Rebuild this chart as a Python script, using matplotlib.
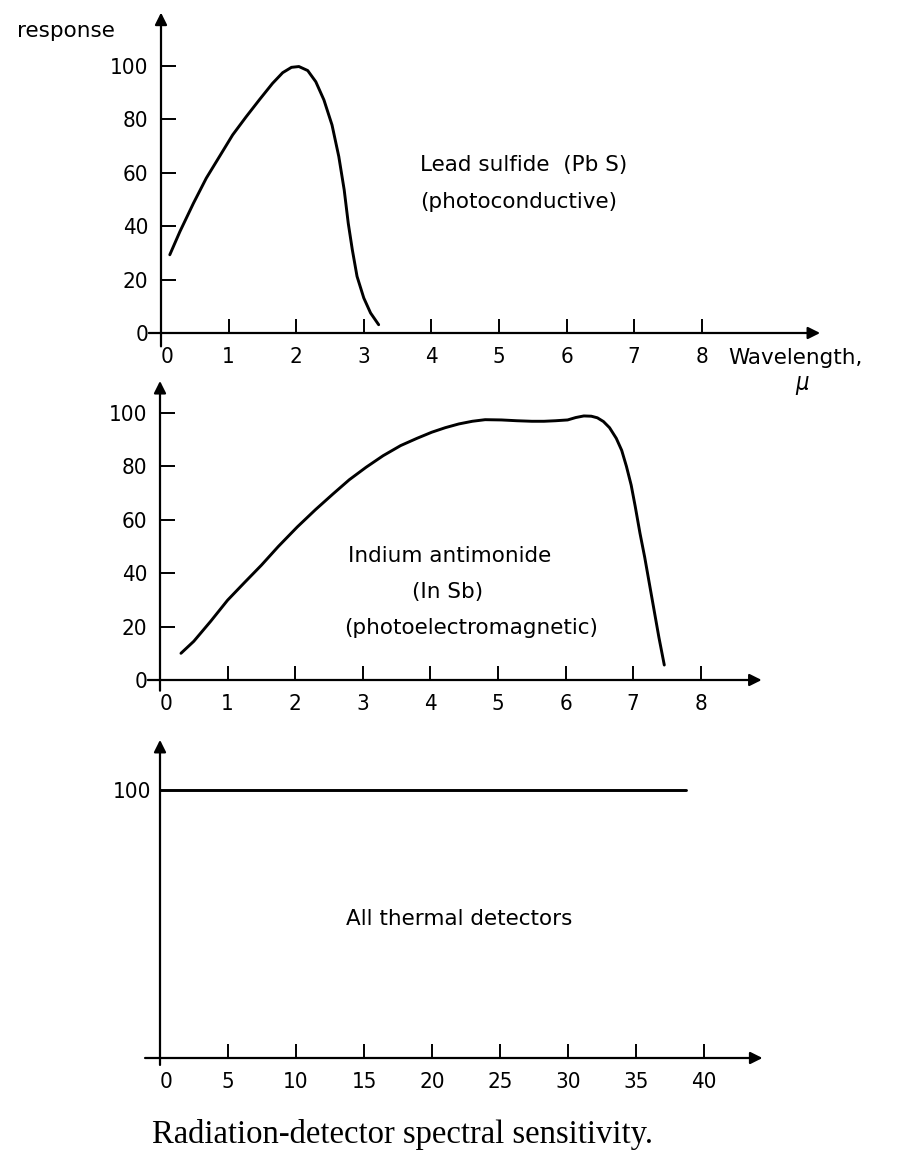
import matplotlib.pyplot as plt
import numpy as np

# --- data ---
# lead sulfide (PbS), wavelength in micron vs relative response
pbs_wl = [0.13, 0.28, 0.48, 0.67, 0.87, 1.06, 1.26, 1.46, 1.65, 1.8, 1.93,
          2.04, 2.17, 2.29, 2.41, 2.53, 2.63, 2.71, 2.77, 2.83, 2.9, 3.0,
          3.1, 3.22]
pbs_resp = [29.3, 38, 48.6, 58, 66.3, 74.2, 81, 87.5, 93.5, 97.5, 99.5,
            99.8, 98.3, 94.1, 87.3, 77.9, 66.1, 53.6, 41.1, 31.2, 21.2, 13.1,
            7.5, 3.1]

# indium antimonide (InSb)
insb_wl = [0.31, 0.5, 0.75, 1.0, 1.25, 1.5, 1.75, 2.03, 2.3, 2.56, 2.8,
           3.05, 3.3, 3.56, 3.8, 4.02, 4.22, 4.42, 4.62, 4.81, 5.05, 5.28,
           5.5, 5.68, 5.85, 6.03, 6.15, 6.27, 6.38, 6.47, 6.56, 6.65, 6.75,
           6.83, 6.9, 6.97, 7.03, 7.1, 7.17, 7.24, 7.31, 7.38, 7.46]
insb_resp = [10, 14.5, 22, 29.9, 36.5, 43, 50, 57.3, 63.8, 69.7, 75,
             79.7, 84, 87.8, 90.5, 92.8, 94.5, 95.9, 96.9, 97.5, 97.4, 97.1,
             96.9, 96.9, 97.1, 97.4, 98.3, 98.9, 98.8, 98.2, 96.8, 94.5, 90.5,
             86, 80, 73, 65, 55, 46, 36, 26, 16, 5.6]

# thermal detectors: flat response
thermal_wl = [0, 38.7]
thermal_resp = [100, 100]

wl_ticks = [0, 1, 2, 3, 4, 5, 6, 7, 8]
wl_ticks_thermal = [0, 5, 10, 15, 20, 25, 30, 35, 40]
resp_ticks = [0, 20, 40, 60, 80, 100]

plt.rcParams['font.family'] = ['DejaVu Sans']
plt.rcParams['font.stretch'] = 'condensed'

W, H = 913, 1162
fig = plt.figure(figsize=(W / 100, H / 100), dpi=100)
fig.patch.set_facecolor('white')


def panel(origin, scale, xlim, ylim):
    # place an axes so data (0,0) lands on the given pixel
    ox, oy = origin
    sx, sy = scale
    left = ox + xlim[0] * sx
    right = ox + xlim[1] * sx
    top = oy - ylim[1] * sy
    bottom = oy - ylim[0] * sy
    ax = fig.add_axes([left / W, 1 - bottom / H, (right - left) / W, (bottom - top) / H])
    ax.set_xlim(xlim)
    ax.set_ylim(ylim)
    ax.patch.set_alpha(0)
    for s in ['top', 'right']:
        ax.spines[s].set_visible(False)
    ax.spines['bottom'].set_position(('data', 0))
    ax.spines['left'].set_position(('data', 0))
    ax.spines['bottom'].set_color('none')
    ax.spines['left'].set_color('none')
    ax.tick_params(axis='x', direction='in', length=10, width=1.4, pad=10, labelsize=16)
    ax.tick_params(axis='y', direction='in', length=11, width=1.4, pad=9, labelsize=16)
    return ax


def arrows(ax, xspan, yspan):
    ap = dict(arrowstyle='-|>', color='black', lw=1.6, mutation_scale=18,
              shrinkA=0, shrinkB=0)
    ax.annotate('', xy=(xspan[1], 0), xytext=(xspan[0], 0), arrowprops=ap,
                annotation_clip=False)
    ax.annotate('', xy=(0, yspan[1]), xytext=(0, yspan[0]), arrowprops=ap,
                annotation_clip=False)


note = dict(family='DejaVu Sans', fontstretch='normal', fontsize=15.5, color='black')
curve = dict(color='black', lw=2.1, solid_joinstyle='round', solid_capstyle='round')

# --- panel 1: PbS ---
ax1 = panel((161, 333), (67.6, 2.67), (-0.4, 10.2), (-12, 122))
arrows(ax1, (-0.18, 9.75), (-5, 120))
ax1.plot(pbs_wl, pbs_resp, **curve)
ax1.set_xticks(wl_ticks)
ax1.set_yticks(resp_ticks)
ax1.set_xticklabels([str(t) for t in wl_ticks])
ax1.get_xticklabels()[0].set_horizontalalignment('left')
ax1.text(3.83, 63, 'Lead sulfide  (Pb S)', ha='left', va='center', **note)
ax1.text(3.83, 49, '(photoconductive)', ha='left', va='center', **note)
ax1.text(8.39, -9.4, 'Wavelength,', ha='left', va='center', **note)
ax1.text(9.38, -19.5, r'$\mu$', ha='left', va='center', fontsize=17)
ax1.text(-2.13, 113, 'response', ha='left', va='center', **note)

# --- panel 2: InSb ---
ax2 = panel((160, 680), (67.6, 2.67), (-0.4, 9.2), (-12, 114))
arrows(ax2, (-0.18, 8.9), (-4, 112))
ax2.plot(insb_wl, insb_resp, **curve)
ax2.set_xticks(wl_ticks)
ax2.set_yticks(resp_ticks)
ax2.set_xticklabels([str(t) for t in wl_ticks])
ax2.get_xticklabels()[0].set_horizontalalignment('left')
ax2.text(4.28, 46.3, 'Indium antimonide', ha='center', va='center', **note)
ax2.text(4.26, 33, '(In Sb)', ha='center', va='center', **note)
ax2.text(4.6, 19.3, '(photoelectromagnetic)', ha='center', va='center', **note)

# --- panel 3: thermal ---
ax3 = panel((160, 1058), (13.6, 2.68), (-2, 46), (-10, 122))
arrows(ax3, (-1.1, 44.3), (-2.6, 118.7))
ax3.plot(thermal_wl, thermal_resp, **curve)
ax3.set_xticks(wl_ticks_thermal)
ax3.set_xticklabels([str(t) for t in wl_ticks_thermal])
ax3.get_xticklabels()[0].set_horizontalalignment('left')
ax3.set_yticks([100])
ax3.tick_params(axis='y', length=0, pad=6)
ax3.text(22, 52, 'All thermal detectors', ha='center', va='center', **note)

fig.text(402 / W, 1 - 1135 / H, 'Radiation-detector spectral sensitivity.',
         ha='center', va='center', family='Liberation Serif', fontsize=23.5)

fig.savefig('out.png', dpi=100, facecolor='white')
